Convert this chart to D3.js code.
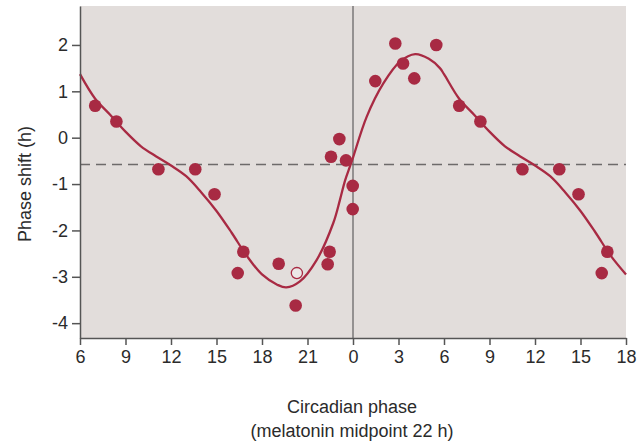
<!doctype html>
<html>
<head>
<meta charset="utf-8">
<script src="https://cdn.jsdelivr.net/npm/d3@7"></script>
<style>
  body { margin: 0; background: #fff; }
  svg { display: block; font-family: "Liberation Sans", Arial, sans-serif; }
  .axis text { font-size: 18px; fill: #2b2b2b; }
  .axis path, .axis line { stroke: #555; stroke-width: 1.5; }
</style>
</head>
<body>
<svg width="643" height="445"></svg>
<script>
// measured points: clock hour of melatonin phase and phase shift (h)
var pointHours  = [7.0, 8.4, 11.17, 13.6, 14.87, 16.4, 16.77, 19.1, 20.22, 22.33, 22.46,
                   22.55, 23.1, 23.54, 23.98, 23.98, 1.47, 2.79, 3.3, 4.04, 5.49];
var pointShifts = [0.69, 0.35, -0.68, -0.68, -1.22, -2.92, -2.46, -2.72, -3.62, -2.73, -2.46,
                   -0.41, -0.03, -0.49, -1.04, -1.54, 1.22, 2.03, 1.6, 1.28, 2.0];
// the single open circle
var openHours  = [20.3];
var openShifts = [-2.92];

// fitted curve
var curveHours  = [0, 0.9, 2.0, 3.1, 4.1, 5.0, 5.73, 6.0, 7.0, 8.0, 9.0, 10.0, 11.0, 12.0, 13.0,
                   14.0, 15.0, 16.0, 17.0, 18.0, 19.0, 19.6, 20.5, 21.6, 22.7, 23.14, 23.47, 23.8];
var curveShifts = [-0.43, 0.45, 1.17, 1.64, 1.8, 1.7, 1.5, 1.37, 0.84, 0.49, 0.13, -0.18, -0.4, -0.6, -0.83,
                   -1.18, -1.58, -2.05, -2.55, -2.95, -3.17, -3.23, -3.1, -2.64, -1.84, -1.34, -0.93, -0.62];

var meanShift = -0.58;
var xTicks = [6, 9, 12, 15, 18, 21, 24, 27, 30, 33, 36, 39, 42];
var yTicks = [-4, -3, -2, -1, 0, 1, 2];

var svg = d3.select("svg");
var xScale = d3.scaleLinear().domain([6, 42]).range([80, 626]);
var yScale = d3.scaleLinear().domain([-4.32, 2.84]).range([338, 6]);
var red = "#a82a43";

// double plot: each clock hour is drawn wherever it falls in the 6..42 window
function unwrap(hours, values) {
  var out = [];
  hours.forEach(function(h, i) {
    [h, h + 24, h + 48].forEach(function(t) {
      if (t >= 6 && t <= 42) out.push([t, values[i]]);
    });
  });
  return out.sort(function(a, b) { return a[0] - b[0]; });
}

svg.append("rect")
  .attr("x", xScale(6)).attr("y", yScale(2.84))
  .attr("width", xScale(42) - xScale(6))
  .attr("height", yScale(-4.32) - yScale(2.84))
  .attr("fill", "#e2dddb");

svg.append("line")
  .attr("x1", xScale(24)).attr("x2", xScale(24))
  .attr("y1", yScale(2.84)).attr("y2", yScale(-4.32))
  .attr("stroke", "#7a7778").attr("stroke-width", 1.5);

svg.append("line")
  .attr("x1", xScale(6)).attr("x2", xScale(42))
  .attr("y1", yScale(meanShift)).attr("y2", yScale(meanShift))
  .attr("stroke", "#6d6a6a").attr("stroke-width", 1.5)
  .attr("stroke-dasharray", "10,6");

var line = d3.line()
  .x(function(d) { return xScale(d[0]); })
  .y(function(d) { return yScale(d[1]); })
  .curve(d3.curveCatmullRom.alpha(0.5));

svg.append("path")
  .datum(unwrap(curveHours, curveShifts))
  .attr("d", line)
  .attr("fill", "none")
  .attr("stroke", red)
  .attr("stroke-width", 2.3);

svg.selectAll("circle.pt")
  .data(unwrap(pointHours, pointShifts))
  .enter().append("circle")
  .attr("class", "pt")
  .attr("cx", function(d) { return xScale(d[0]); })
  .attr("cy", function(d) { return yScale(d[1]); })
  .attr("r", 6.3)
  .attr("fill", red);

svg.selectAll("circle.open")
  .data(unwrap(openHours, openShifts))
  .enter().append("circle")
  .attr("class", "open")
  .attr("cx", function(d) { return xScale(d[0]); })
  .attr("cy", function(d) { return yScale(d[1]); })
  .attr("r", 5.6)
  .attr("fill", "#ece8e7")
  .attr("stroke", red)
  .attr("stroke-width", 1.3);

var xAxis = d3.axisBottom(xScale).tickValues(xTicks)
  .tickFormat(function(d) { return String(d % 24); })
  .tickSize(7).tickPadding(5).tickSizeOuter(0);
svg.append("g").attr("class", "axis")
  .attr("transform", "translate(0," + yScale(-4.32) + ")")
  .call(xAxis);

// plain hyphen for negatives, as in the figure
var yAxis = d3.axisLeft(yScale).tickValues(yTicks)
  .tickFormat(function(d) { return String(d); })
  .tickSize(8).tickPadding(4).tickSizeOuter(0);
svg.append("g").attr("class", "axis")
  .attr("transform", "translate(" + xScale(6) + ",0)")
  .call(yAxis);

svg.append("text")
  .attr("transform", "translate(31,184) rotate(-90)")
  .attr("text-anchor", "middle")
  .style("font-size", "18px").style("fill", "#2b2b2b")
  .text("Phase shift (h)");

svg.append("text")
  .attr("x", 352).attr("y", 413)
  .attr("text-anchor", "middle")
  .style("font-size", "18px").style("fill", "#2b2b2b")
  .text("Circadian phase");

svg.append("text")
  .attr("x", 352).attr("y", 437)
  .attr("text-anchor", "middle")
  .style("font-size", "18px").style("fill", "#2b2b2b")
  .text("(melatonin midpoint 22 h)");
</script>
</body>
</html>
